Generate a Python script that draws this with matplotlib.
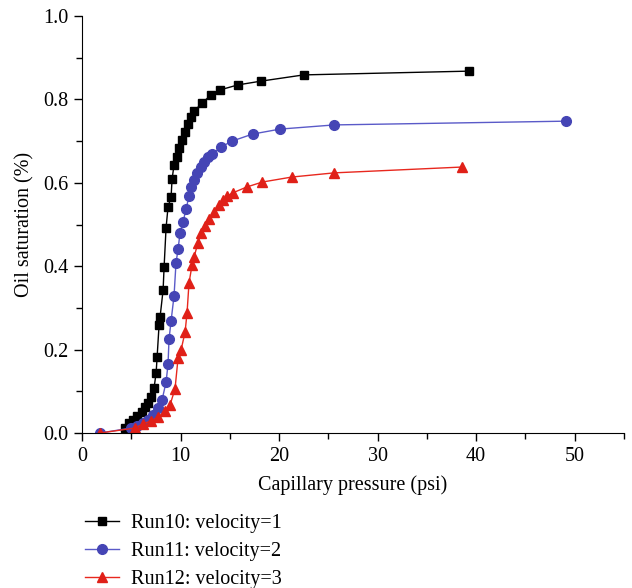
import numpy as np
import matplotlib.pyplot as plt
from matplotlib.ticker import MultipleLocator

plt.rcParams['font.family'] = ['Liberation Serif', 'DejaVu Serif']
plt.rcParams['font.size'] = 14.5

# Run10: velocity=1
p_run10 = [4.36, 4.77, 5.17, 5.58, 6.09, 6.39, 6.69, 7.00, 7.30, 7.51, 7.61, 7.81, 7.91,
           8.22, 8.32, 8.52, 8.72, 9.03, 9.13, 9.33, 9.63, 9.84, 10.14, 10.45, 10.75,
           11.05, 11.36, 12.17, 13.08, 14.0, 15.82, 18.15, 22.5, 39.25]
s_run10 = [0.012, 0.024, 0.031, 0.041, 0.050, 0.062, 0.072, 0.086, 0.108, 0.144, 0.182,
           0.259, 0.278, 0.343, 0.398, 0.492, 0.542, 0.566, 0.609, 0.643, 0.662, 0.683,
           0.703, 0.722, 0.741, 0.758, 0.772, 0.791, 0.811, 0.823, 0.835, 0.844, 0.859,
           0.868]

# Run11: velocity=2
p_run11 = [1.83, 4.97, 5.58, 6.19, 6.69, 7.20, 7.71, 8.11, 8.52, 8.72, 8.82, 9.03, 9.33,
           9.53, 9.74, 9.94, 10.24, 10.55, 10.85, 11.05, 11.4, 11.7, 12.1, 12.4, 12.8,
           13.2, 14.1, 15.2, 17.3, 20.1, 25.6, 49.1]
s_run11 = [0.0, 0.012, 0.017, 0.024, 0.031, 0.043, 0.060, 0.079, 0.122, 0.165, 0.225,
           0.269, 0.329, 0.408, 0.441, 0.480, 0.506, 0.537, 0.568, 0.590, 0.607, 0.624,
           0.638, 0.650, 0.662, 0.669, 0.686, 0.700, 0.717, 0.729, 0.739, 0.748]

# Run12: velocity=3
p_run12 = [1.83, 5.38, 6.19, 7.0, 7.71, 8.42, 8.92, 9.43, 9.74, 10.04, 10.45, 10.65,
           10.85, 11.16, 11.36, 11.76, 12.07, 12.47, 12.88, 13.39, 13.89, 14.3, 14.7,
           15.3, 16.7, 18.3, 21.3, 25.6, 38.6]
s_run12 = [0.0, 0.012, 0.022, 0.029, 0.038, 0.053, 0.067, 0.106, 0.180, 0.199, 0.242,
           0.288, 0.360, 0.403, 0.422, 0.456, 0.480, 0.496, 0.513, 0.530, 0.547, 0.559,
           0.568, 0.576, 0.590, 0.602, 0.614, 0.624, 0.638]

fig = plt.figure(figsize=(6.32, 5.88), dpi=100)
ax = fig.add_axes([0.130, 0.2636, 0.857, 0.709])

ax.plot(p_run10, s_run10, '-s', color='black', lw=1.0, ms=6,
        label='Run10: velocity=1')
ax.plot(p_run11, s_run11, '-o', color='#5a5ac8', mfc='#4545b5', mec='#4545b5',
        lw=1.0, ms=7, label='Run11: velocity=2')
ax.plot(p_run12, s_run12, '-^', color='#e8281e', mfc='#e02018', mec='#e02018',
        lw=1.0, ms=7, label='Run12: velocity=3')

ax.set_xlim(0, 55)
ax.set_ylim(0, 1.0)
ax.xaxis.set_major_locator(MultipleLocator(10))
ax.xaxis.set_minor_locator(MultipleLocator(5))
ax.yaxis.set_major_locator(MultipleLocator(0.2))
ax.yaxis.set_minor_locator(MultipleLocator(0.1))
ax.yaxis.set_major_formatter(plt.FormatStrFormatter('%.1f'))
ax.tick_params(which='major', direction='out', length=6, width=1, pad=4)
ax.tick_params(which='minor', direction='out', length=4, width=1)
ax.spines['top'].set_visible(False)
ax.spines['right'].set_visible(False)

ax.set_xlabel('Capillary pressure (psi)', labelpad=7)
ax.set_ylabel('Oil saturation (%)', labelpad=6)

fig.legend(loc='upper left', bbox_to_anchor=(0.122, 0.14), frameon=False,
           handlelength=1.7, handletextpad=0.6, labelspacing=0.45, borderaxespad=0)

fig.savefig('out.png', dpi=100)
